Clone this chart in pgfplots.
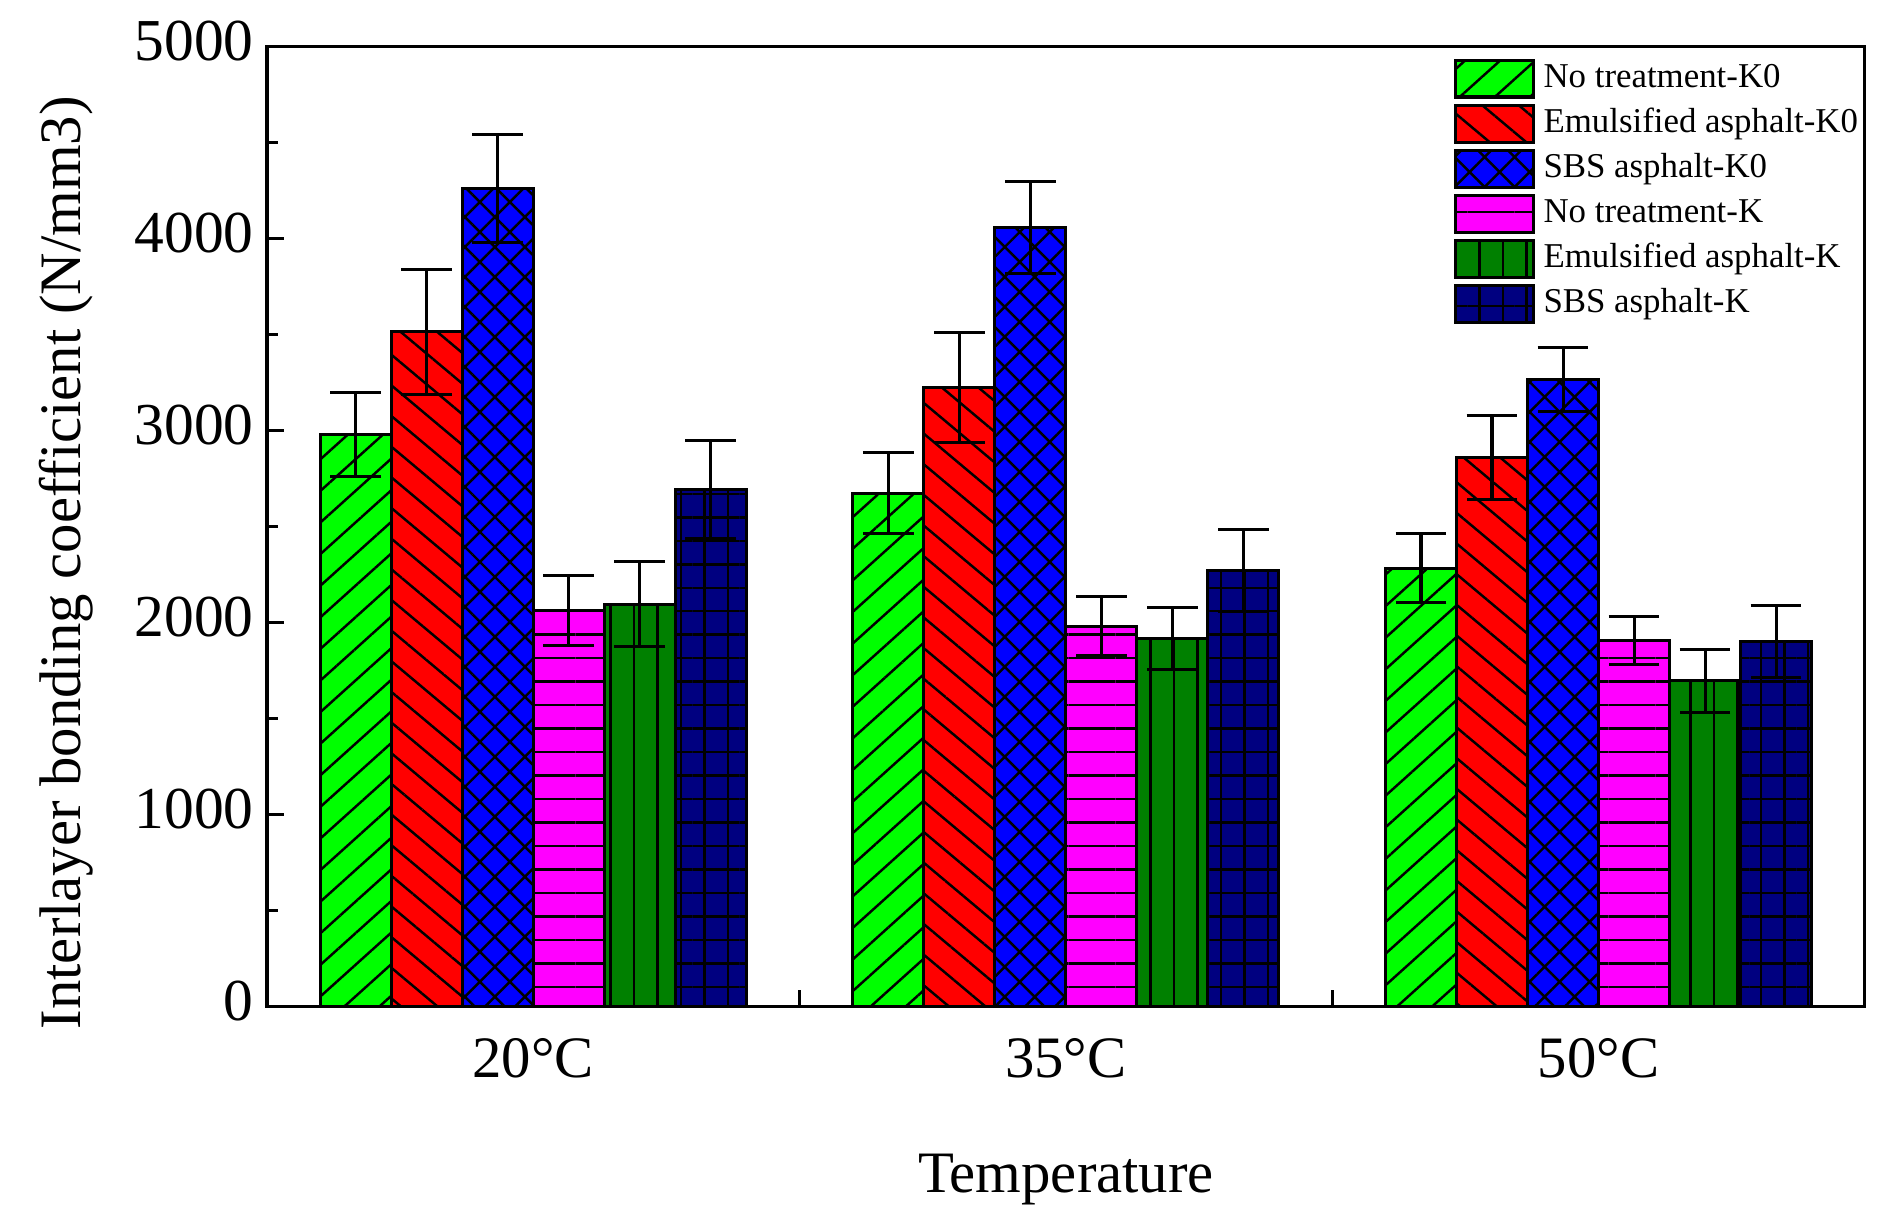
\documentclass[border=0pt]{standalone}
\usepackage{fontspec}
\setmainfont{Liberation Serif}
\usepackage{pgfplots}
\pgfplotsset{compat=1.18}
\usetikzlibrary{patterns.meta}

\definecolor{cgreen}{RGB}{0,255,0}
\definecolor{cred}{RGB}{255,0,0}
\definecolor{cblue}{RGB}{0,0,255}
\definecolor{cmag}{RGB}{255,0,255}
\definecolor{cdgreen}{RGB}{0,128,0}
\definecolor{cnavy}{RGB}{0,0,128}

\begin{document}
\begin{tikzpicture}
\useasboundingbox (-70.5pt,-56.8pt) rectangle (429.6pt,265.8pt);
\begin{axis}[
    at={(0pt,0pt)}, anchor=south west,
    scale only axis,
    width=421.9pt, height=253.4pt,
    xmin=0.5, xmax=3.5,
    ymin=0, ymax=5000,
    ybar, bar width=18.75pt,
    axis line style={line width=0.8pt},
    every tick/.style={black, line width=0.8pt},
    tick align=inside,
    xtick pos=bottom, ytick pos=left,
    major tick length=4.5pt, minor tick length=2.8pt,
    xtick={1.5,2.5}, xticklabels={},
    extra x ticks={1,2,3},
    extra x tick labels={20°C,35°C,50°C},
    extra x tick style={major tick length=0pt},
    ytick={0,1000,...,5000},
    minor ytick={500,1500,...,4500},
    scaled y ticks=false,
    /pgf/number format/assume math mode=true,
    /pgf/number format/1000 sep={},
    xticklabel style={font=\fontsize{15.5}{18}\selectfont, yshift=-5pt},
    yticklabel style={font=\fontsize{15.7}{18}\selectfont, yshift=1.5pt},
    xlabel={Temperature},
    ylabel={Interlayer bonding coefficient (N/mm3)},
    xlabel style={font=\fontsize{15.5}{18}\selectfont,
        at={(axis description cs:0.5,-0.180)}, anchor=center},
    ylabel style={font=\fontsize{15.5}{18}\selectfont,
        at={(axis description cs:-0.1258,0.4625)}, anchor=center},
    legend cell align=left,
    legend image code/.code={
        \draw[#1, line width=0.8pt] (0pt,-4.85pt) rectangle (20.6pt,4.85pt);},
    legend style={
        at={(0.7425,0.9885)}, anchor=north west,
        draw=none, fill=none,
        font=\fontsize{9.2}{11}\selectfont,
        row sep=1.4pt, inner sep=0pt,
        nodes={inner sep=0pt, text height=6.6pt, text depth=2pt},
        /tikz/every odd column/.append style={column sep=2.2pt}},
    error bars/y dir=both,
    error bars/y explicit,
    error bars/error bar style={black, line width=0.8pt},
    error bars/error mark options={black, line width=0.8pt, mark size=6.7pt, rotate=90},
]
\addplot[bar shift=-46.88pt, draw=black, line width=0.8pt, fill=cgreen,
    postaction={pattern={Lines[angle=42,distance=6.2pt,line width=0.65pt]}, pattern color=black}]
    coordinates {(1,2980) +- (0,220) (2,2675) +- (0,210) (3,2285) +- (0,178)};
\addlegendentry{No treatment-K0}
\addplot[bar shift=-28.13pt, draw=black, line width=0.8pt, fill=cred,
    postaction={pattern={Lines[angle=-40,distance=6.2pt,line width=0.65pt]}, pattern color=black}]
    coordinates {(1,3515) +- (0,325) (2,3225) +- (0,288) (3,2862) +- (0,220)};
\addlegendentry{Emulsified asphalt-K0}
\addplot[bar shift=-9.38pt, draw=black, line width=0.8pt, fill=cblue,
    postaction={pattern={Hatch[angle=45,distance=5.6pt,line width=0.65pt]}, pattern color=black}]
    coordinates {(1,4262) +- (0,283) (2,4058) +- (0,240) (3,3268) +- (0,165)};
\addlegendentry{SBS asphalt-K0}
\addplot[bar shift=9.38pt, draw=black, line width=0.8pt, fill=cmag,
    postaction={pattern={Lines[angle=0,distance=6.2pt,line width=0.65pt]}, pattern color=black}]
    coordinates {(1,2065) +- (0,183) (2,1983) +- (0,153) (3,1908) +- (0,127)};
\addlegendentry{No treatment-K}
\addplot[bar shift=28.13pt, draw=black, line width=0.8pt, fill=cdgreen,
    postaction={pattern={Lines[angle=90,distance=6.2pt,line width=0.65pt]}, pattern color=black}]
    coordinates {(1,2097) +- (0,222) (2,1918) +- (0,162) (3,1697) +- (0,165)};
\addlegendentry{Emulsified asphalt-K}
\addplot[bar shift=46.88pt, draw=black, line width=0.8pt, fill=cnavy,
    postaction={pattern={Hatch[angle=0,distance=6.2pt,line width=0.65pt]}, pattern color=black}]
    coordinates {(1,2695) +- (0,255) (2,2273) +- (0,215) (3,1902) +- (0,188)};
\addlegendentry{SBS asphalt-K}
\end{axis}
\end{tikzpicture}
\end{document}
